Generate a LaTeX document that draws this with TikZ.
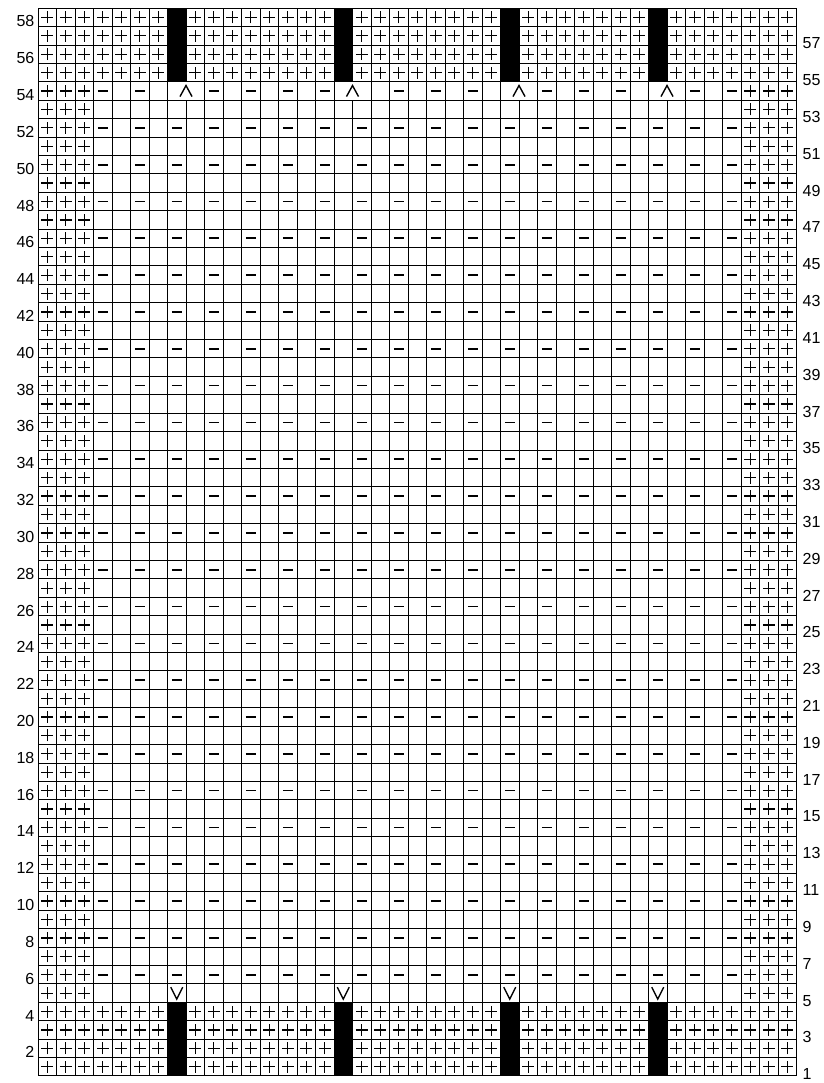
\documentclass[tikz,border=0pt]{standalone}
\usepackage{fontspec}
\setmainfont{Liberation Sans}
\usetikzlibrary{calc}
\definecolor{chartline}{HTML}{000000}

\tikzset{
  gridline/.style={chartline, line width=1pt},
  symline/.style={chartline, line width=1.25pt},
  purlline/.style={chartline, line width=1.7pt},
  rowlbl/.style={font=\fontsize{16}{16}\selectfont, inner sep=0pt},
  knitst/.pic={\draw[symline] (-6pt,0) -- (6pt,0) (0,-6pt) -- (0,6pt);},
  purlst/.pic={\draw[purlline] (-5pt,0) -- (5pt,0);},
  decst/.pic={\draw[symline, line width=1.4pt] (-6pt,-5.5pt) -- (0,5.5pt) -- (6pt,-5.5pt);},
  incst/.pic={\draw[symline, line width=1.4pt] (-6pt,6pt) -- (0,-6pt) -- (6pt,6pt);}
}

\begin{document}
\begin{tikzpicture}
  \useasboundingbox (0,0) rectangle (823pt,1083pt);
  \begin{scope}[shift={(38pt,7pt)}, x=18.5pt, y=18.41pt]
    % black columns, bottom and top bands
    \foreach \c in {7,16,25,33} {
      \fill[chartline] (\c,0) rectangle (\c+1,4);
      \fill[chartline] (\c,54) rectangle (\c+1,58);
    }
    % grid
    \foreach \r in {0,...,58}
      \draw[gridline] (0,\r) -- (41,\r);
    \foreach \c in {0,...,41} {
      \ifnum\c=8 \def\gap{1}\else\ifnum\c=17 \def\gap{1}\else
      \ifnum\c=26 \def\gap{1}\else\ifnum\c=34 \def\gap{1}\else
      \def\gap{0}\fi\fi\fi\fi
      \ifnum\gap=1
        \draw[gridline] (\c,0) -- (\c,53) (\c,54) -- (\c,58);
      \else
        \draw[gridline] (\c,0) -- (\c,58);
      \fi
    }
    % knit bands
    \foreach \r in {1,2,3,4,55,56,57,58}
      \foreach \a/\b in {0/6,8/15,17/24,26/32,34/40}
        \foreach \c in {\a,...,\b}
          \pic at (\c+0.5,\r-0.5) {knitst};
    % knit borders
    \foreach \r in {5,...,54}
      \foreach \c in {0,1,2,38,39,40}
        \pic at (\c+0.5,\r-0.5) {knitst};
    % purl rows
    \foreach \r in {6,8,...,52}
      \foreach \c in {3,5,...,37}
        \pic at (\c+0.5,\r-0.5) {purlst};
    \foreach \c in {3,5,9,11,13,15,19,21,23,27,29,31,35,37}
      \pic at (\c+0.5,53.5) {purlst};
    % decreases and increases
    \foreach \c in {8,17,26,34}
      \pic at (\c,53.5) {decst};
    \foreach \c in {7,16,25,33}
      \pic at (\c+0.5,4.5) {incst};
    % row numbers
    \foreach \r in {2,4,...,58}
      \node[rowlbl, anchor=east, xshift=-3.5pt, yshift=-4pt] (lbl-\r) at (0,\r-0.5) {\r};
    \foreach \r in {1,3,...,57}
      \node[rowlbl, anchor=west, xshift=6pt, yshift=-7.5pt] (lbl-\r) at (41,\r-0.5) {\r};
  \end{scope}
\end{tikzpicture}
\end{document}
